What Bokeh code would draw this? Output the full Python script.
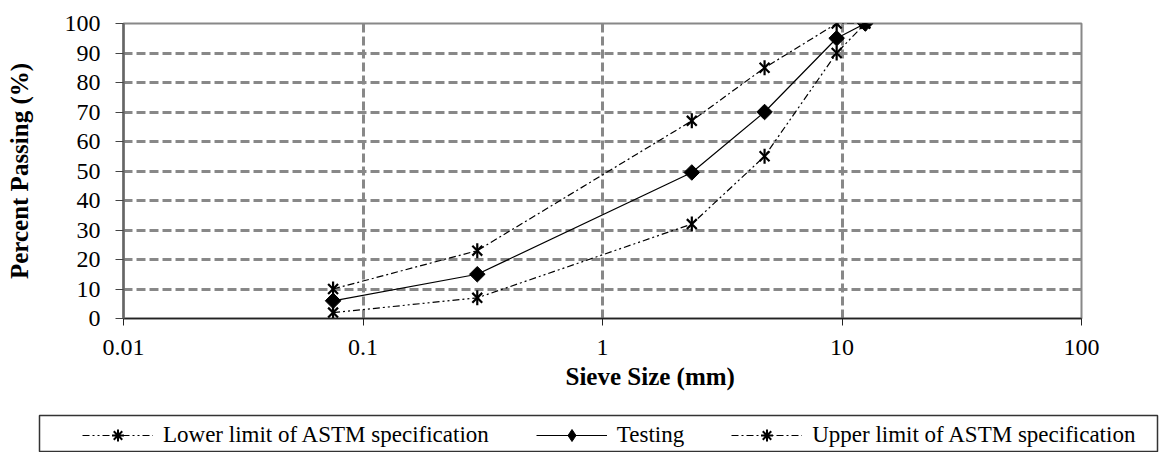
import numpy as np
from bokeh.plotting import figure
from bokeh.layouts import column, row
from bokeh.models import Legend, LegendItem, FixedTicker, Range1d, Title
from bokeh.embed import file_html
from bokeh.resources import INLINE

# ---- data ----
sieve_mm = [0.075, 0.3, 2.36, 4.75, 9.5, 12.5]
lower_limit = [2, 7, 32, 55, 90, 100]
testing = [6, 15, 49.5, 70, 95, 100]
upper_limit = [10, 23, 67, 85, 100, 100]
x_ticks = [0.01, 0.1, 1, 10, 100]
x_tick_labels = ["0.01", "0.1", "1", "10", "100"]
y_ticks = [0, 10, 20, 30, 40, 50, 60, 70, 80, 90, 100]
series_names = ["Lower limit of ASTM specification", "Testing",
                "Upper limit of ASTM specification"]

FONT = "Liberation Serif"
GRID = "#888888"

p = figure(width=1160, height=408, x_axis_type="log",
           x_range=Range1d(0.01, 100), y_range=Range1d(0, 100),
           output_backend="svg", toolbar_location=None,
           min_border_left=123, min_border_right=79, min_border_top=23,
           min_border_bottom=90)
p.background_fill_color = "white"
p.border_fill_color = "white"
p.outline_line_color = GRID
p.outline_line_width = 2

for g in (p.xgrid, p.ygrid):
    g.grid_line_color = GRID
    g.grid_line_width = 3
    g.grid_line_dash = "9 4"
p.xgrid.ticker = FixedTicker(ticks=x_ticks)
p.ygrid.ticker = FixedTicker(ticks=y_ticks)

p.xaxis.ticker = FixedTicker(ticks=x_ticks)
p.xaxis.major_label_overrides = {t: l for t, l in zip(x_ticks, x_tick_labels)}
p.xaxis.minor_tick_line_color = None
p.xaxis.major_tick_in = 0
p.xaxis.major_tick_out = 7
p.xaxis.axis_line_color = "#222222"
p.xaxis.axis_line_width = 1.5
p.xaxis.major_tick_line_color = "#222222"
p.xaxis.major_label_text_font = FONT
p.xaxis.major_label_text_font_size = "24px"
p.xaxis.major_label_text_color = "black"
p.xaxis.major_label_standoff = 14

# x-axis title (offset to the right, as in the reference)
xtitle = Title(text="Sieve Size (mm)", align="left", offset=442, standoff=6,
               text_font=FONT, text_font_size="25px", text_font_style="bold",
               text_color="black")
p.add_layout(xtitle, "below")

p.yaxis.ticker = FixedTicker(ticks=y_ticks)
p.yaxis.minor_tick_line_color = None
p.yaxis.major_tick_in = 0
p.yaxis.major_tick_out = 8
p.yaxis.axis_line_color = "#666666"
p.yaxis.axis_line_width = 2.5
p.yaxis.major_tick_line_color = "#444444"
p.yaxis.major_label_text_font = FONT
p.yaxis.major_label_text_font_size = "24px"
p.yaxis.major_label_text_color = "black"
p.yaxis.major_label_standoff = 15
p.yaxis.axis_label = "Percent Passing (%)"
p.yaxis.axis_label_text_font = FONT
p.yaxis.axis_label_text_font_size = "25px"
p.yaxis.axis_label_text_font_style = "bold"
p.yaxis.axis_label_text_color = "black"
p.yaxis.axis_label_standoff = 29

DASH_LOWER = "7 3 2 3 2 3"
DASH_UPPER = "7 3 2 3"


def star_series(fig, ys, dash):
    ln = fig.line(sieve_mm, ys, line_color="black", line_width=1.2, line_dash=dash)
    mx = fig.scatter(sieve_mm, ys, marker="x", size=14, line_color="black", line_width=2.2)
    fig.scatter(sieve_mm, ys, marker="dash", angle=np.pi / 2, size=15,
                line_color="black", line_width=2.2)
    return ln, mx


def testing_series(fig):
    ln = fig.line(sieve_mm, testing, line_color="black", line_width=1.2)
    fig.scatter(sieve_mm, testing, marker="square", angle=np.pi / 4, size=11,
                fill_color="black", line_color="black")
    dia = fig.scatter(sieve_mm, testing, marker="diamond", size=8,
                      fill_color="black", line_color="black")
    return [ln, dia]


star_series(p, lower_limit, DASH_LOWER)
testing_series(p)
star_series(p, upper_limit, DASH_UPPER)

# ---- legend panel: its frame outline is the legend box ----
lg = figure(width=1160, height=44, x_range=Range1d(-2, -1), y_range=Range1d(-2, -1),
            output_backend="svg", toolbar_location=None,
            x_axis_location=None, y_axis_location=None,
            min_border_left=39, min_border_right=3, min_border_top=7,
            min_border_bottom=0)
lg.xgrid.visible = False
lg.ygrid.visible = False
lg.outline_line_color = "#333333"
lg.outline_line_width = 1.5
lg.border_fill_color = "white"


def legend_star(ys, dash):
    ln, _ = star_series(lg, ys, dash)
    ast = lg.scatter(sieve_mm, ys, marker="asterisk", size=14, line_color="black",
                     line_width=2)
    return [ln, ast]


r_low = legend_star(lower_limit, DASH_LOWER)
r_test = testing_series(lg)
r_up = legend_star(upper_limit, DASH_UPPER)

legend = Legend(items=[
    LegendItem(label=series_names[0], renderers=r_low),
    LegendItem(label=series_names[1], renderers=r_test),
    LegendItem(label=series_names[2], renderers=r_up),
], orientation="horizontal", location=(43, 2))
legend.label_text_font = FONT
legend.label_text_font_size = "23px"
legend.label_text_color = "black"
legend.glyph_width = 71
legend.glyph_height = 30
legend.spacing = 47
legend.padding = 0
legend.margin = 0
legend.border_line_alpha = 0
legend.background_fill_alpha = 0
legend.label_standoff = 10
lg.add_layout(legend)

layout = column(p, row(lg), spacing=0)
open("out.html", "w").write(file_html(layout, INLINE))
